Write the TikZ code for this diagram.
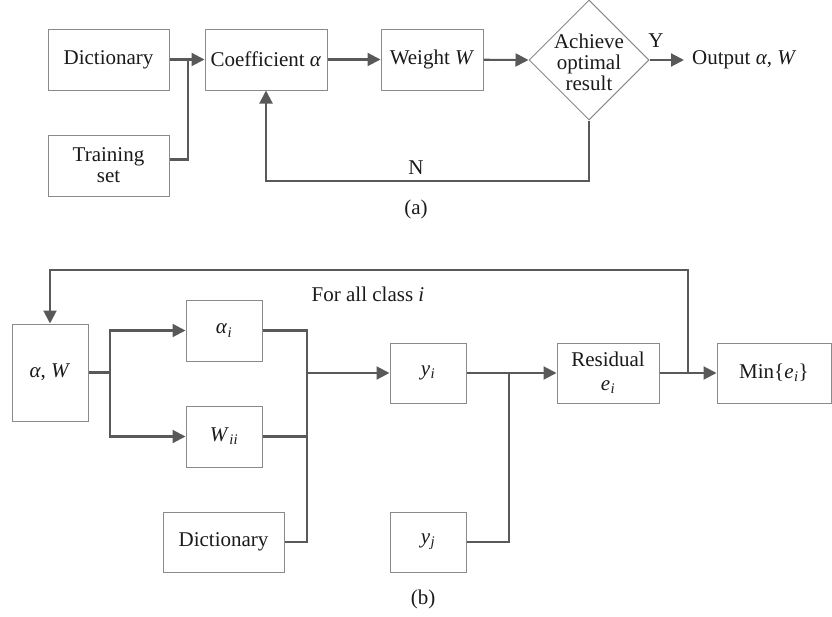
\documentclass[tikz,border=0pt]{standalone}
\usepackage{fontspec}
\setmainfont{Liberation Serif}
\usetikzlibrary{arrows.meta,shapes.geometric}
\definecolor{linegray}{HTML}{595959}
\definecolor{boxgray}{HTML}{8A8A8A}
\definecolor{txt}{HTML}{1A1A1A}
\newcommand{\fsz}{\fontsize{21}{21}\selectfont}
\newcommand{\mv}[1]{\textit{#1}}
\newcommand{\msb}[2]{\textit{#1}\kern0.5pt\textsubscript{\textit{#2}}}
\begin{document}
\begin{tikzpicture}[x=1pt,y=-1pt,
  box/.style={draw=boxgray, line width=1pt, fill=white, inner sep=0pt, align=center, font=\fsz, text=txt},
  lbl/.style={inner sep=0pt, font=\fsz, text=txt, align=center},
  conn/.style={draw=linegray, line width=2.1pt},
  arr/.style={conn, -{Triangle[length=13pt,width=13pt]}}]
\useasboundingbox (0,0) rectangle (832,616);
% ---------- (a) ----------
\node[box, minimum width=121pt, minimum height=61pt] (dict) at (108.5,59.5) {Dictionary};
\node[box, minimum width=122pt, minimum height=61pt] (coef) at (266,59.5) {Coefficient \mv{α}};
\node[box, minimum width=121pt, minimum height=61pt] (train) at (108.5,165.5) {Training\\set};
\node[box, minimum width=102pt, minimum height=61pt] (weight) at (432,59.5) {Weight \mv{W}};
\node[draw=boxgray, line width=1pt, shape=diamond, minimum width=120pt, minimum height=120pt, inner sep=0pt] (dia) at (589,60) {};
\node[lbl] (diatxt) at (589,62) {Achieve\\optimal\\result};
\node[lbl, anchor=west, inner xsep=8pt] (out) at (684,60) {Output \mv{α}, \mv{W}};
\node[lbl] (ylab) at (656,41) {Y};
\node[lbl] (nlab) at (416,168) {N};
\node[lbl] (capa) at (416,209) {(a)};
\coordinate (j1) at (188,59.5);
\coordinate (fb) at (266,181);
\draw[arr] (dict) -- (coef);
\draw[conn] ([yshift=6pt]train.east) -| (j1);
\draw[arr] (coef) -- (weight);
\draw[arr] (weight) -- (dia.west);
\draw[arr] (dia.east) -- (out.west);
\draw[arr] (dia.south) |- (fb) -- (coef.south);
% ---------- (b) ----------
\node[box, minimum width=76pt, minimum height=97pt] (aw) at (50,372.5) {\mv{α}, \mv{W}};
\node[box, minimum width=76pt, minimum height=61pt] (ai) at (224,330.5) {\msb{α}{i}};
\node[box, minimum width=76pt, minimum height=61pt] (wii) at (224,436.5) {\msb{W}{ii}};
\node[box, minimum width=121pt, minimum height=60pt] (dict2) at (223.5,542) {Dictionary};
\node[box, minimum width=76pt, minimum height=60pt] (yi) at (428,373) {\msb{y}{i}};
\node[box, minimum width=76pt, minimum height=60pt] (yj) at (428,542) {\msb{y}{j}};
\node[box, minimum width=102pt, minimum height=60pt] (res) at (608,373) {Residual\\[3pt]\msb{e}{i}};
\node[box, minimum width=114pt, minimum height=60pt] (mn) at (774,373) {Min\{\msb{e}{i}\}};
\node[lbl] (forall) at (368,294) {For all class \mv{i}};
\node[lbl] (capb) at (423,599) {(b)};
\coordinate (s1) at (110,372.5);
\coordinate (m1) at (307,373);
\coordinate (j2) at (509,373);
\coordinate (j3) at (688,373);
\coordinate (tp) at (50,270);
\draw[conn] (aw.east) -- (s1);
\draw[arr] (s1) |- (ai.west);
\draw[arr] (s1) |- (wii.west);
\draw[conn] (ai.east) -| (m1);
\draw[conn] (wii.east) -| (m1);
\draw[conn] (dict2.east) -| (m1);
\draw[arr] (m1) -- (yi.west);
\draw[arr] (yi) -- (res);
\draw[conn] (yj.east) -| (j2);
\draw[arr] (res) -- (mn);
\draw[arr] (j3) |- (tp) -- (aw.north);
\end{tikzpicture}
\end{document}
